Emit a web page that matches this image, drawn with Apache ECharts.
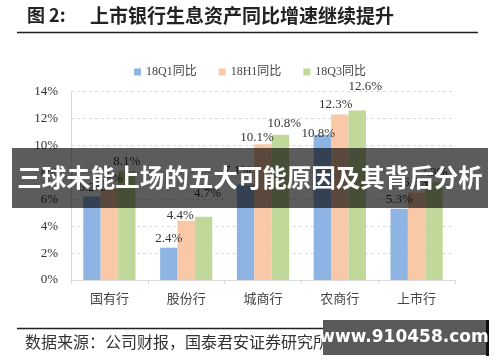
<!DOCTYPE html>
<html>
<head>
<meta charset="utf-8">
<script src="https://cdn.jsdelivr.net/npm/echarts@6/dist/echarts.min.js"></script>
<style>html,body{margin:0;padding:0;background:#fff;}#c{width:500px;height:362px;}</style>
</head>
<body>
<div id="c"></div>
<script>
const categories = ['国有行', '股份行', '城商行', '农商行', '上市行'];
const seriesNames = ['18Q1同比', '18H1同比', '18Q3同比'];
const q1Values = [6.2, 2.4, 7.1, 10.8, 5.3];
const h1Values = [6.8, 4.4, 10.1, 12.3, 6.5];
const q3Values = [8.1, 4.7, 10.8, 12.6, 7.3];
const yTicks = [0, 2, 4, 6, 8, 10, 12, 14];

const colors = ['#8EB4E3', '#F9C8A6', '#C1D89B'];
const serif = '"Liberation Serif", "Noto Sans CJK SC", serif';

// label nudges (style only), per series, per category
const labelOffsets = [
  [[0, 0], [0, 0], [-8, -4], [-4, 8], [0, 0]],
  [[0, 0], [-6, 4], [-6, 3], [-4, 0], [0, 0]],
  [[0, 0], [4, -14], [4, -2], [8, -14], [0, 0]]
];

const chart = echarts.init(document.getElementById('c'), null, {renderer: 'canvas'});

function mkSeries(idx, vals) {
  return {
    name: seriesNames[idx],
    type: 'bar',
    data: vals.map((v, i) => ({value: v, label: {offset: labelOffsets[idx][i]}})),
    barGap: '0%',
    barCategoryGap: '32%',
    itemStyle: {color: colors[idx]},
    label: {
      show: true,
      position: 'top',
      distance: 3,
      formatter: p => p.value.toFixed(1) + '%',
      fontFamily: serif,
      fontSize: 13,
      color: '#333'
    }
  };
}

chart.setOption({
  animation: false,
  backgroundColor: '#fff',
  grid: {left: 71, right: 45, top: 91.7, bottom: 82, containLabel: false},
  legend: {
    top: 61,
    left: 'center',
    itemWidth: 7,
    itemHeight: 7,
    itemGap: 22,
    icon: 'rect',
    textStyle: {fontFamily: serif, fontSize: 12, color: '#444'},
    data: seriesNames
  },
  xAxis: {
    type: 'category',
    data: categories,
    axisLine: {lineStyle: {color: '#d9d9d9'}},
    axisTick: {show: true, lineStyle: {color: '#d9d9d9'}, length: 4},
    axisLabel: {fontFamily: '"Noto Sans CJK SC", sans-serif', fontSize: 13, color: '#444', margin: 12}
  },
  yAxis: {
    type: 'value',
    min: yTicks[0],
    max: yTicks[yTicks.length - 1],
    interval: 2,
    axisLine: {show: true, lineStyle: {color: '#d9d9d9'}},
    axisTick: {show: false},
    splitLine: {lineStyle: {color: '#d9d9d9', type: [3, 3]}},
    axisLabel: {formatter: '{value}%', fontFamily: serif, fontSize: 13, color: '#333', margin: 13}
  },
  series: [mkSeries(0, q1Values), mkSeries(1, h1Values), mkSeries(2, q3Values)],
  graphic: [
    {type: 'text', left: 27, top: 6, style: {text: '图 2:', font: 'bold 18px "Noto Sans CJK SC", sans-serif', fill: '#222'}},
    {type: 'text', left: 90, top: 6, style: {text: '上市银行生息资产同比增速继续提升', font: 'bold 19px "Noto Sans CJK SC", sans-serif', fill: '#222'}},
    {type: 'line', shape: {x1: 17, y1: 32.5, x2: 478, y2: 32.5}, style: {stroke: '#222', lineWidth: 1.5}},
    {type: 'line', shape: {x1: 17, y1: 328.5, x2: 478, y2: 328.5}, style: {stroke: '#222', lineWidth: 1.5}},
    {type: 'text', left: 25, top: 334, style: {text: '数据来源：公司财报，国泰君安证券研究所', font: '16px "Noto Sans CJK SC", sans-serif', fill: '#333'}},
    {type: 'rect', shape: {x: 12, y: 148, width: 476, height: 60}, style: {fill: 'rgba(0,0,0,0.64)'}, z: 100},
    {type: 'text', x: 250, y: 178, style: {text: '三球未能上场的五大可能原因及其背后分析', font: 'bold 24.5px "Noto Sans CJK SC", sans-serif', fill: '#fff', align: 'center', verticalAlign: 'middle'}, z: 101},
    {type: 'rect', shape: {x: 323, y: 320, width: 163, height: 35}, style: {fill: '#5a5a5a'}, z: 100},
    {type: 'rect', shape: {x: 486, y: 320, width: 3, height: 36}, style: {fill: '#111'}, z: 100},
    {type: 'text', x: 404, y: 337.5, style: {text: 'www.910458.com', font: 'bold 17px "DejaVu Sans", sans-serif', fill: '#fff', align: 'center', verticalAlign: 'middle'}, z: 101}
  ]
});
</script>
</body>
</html>
